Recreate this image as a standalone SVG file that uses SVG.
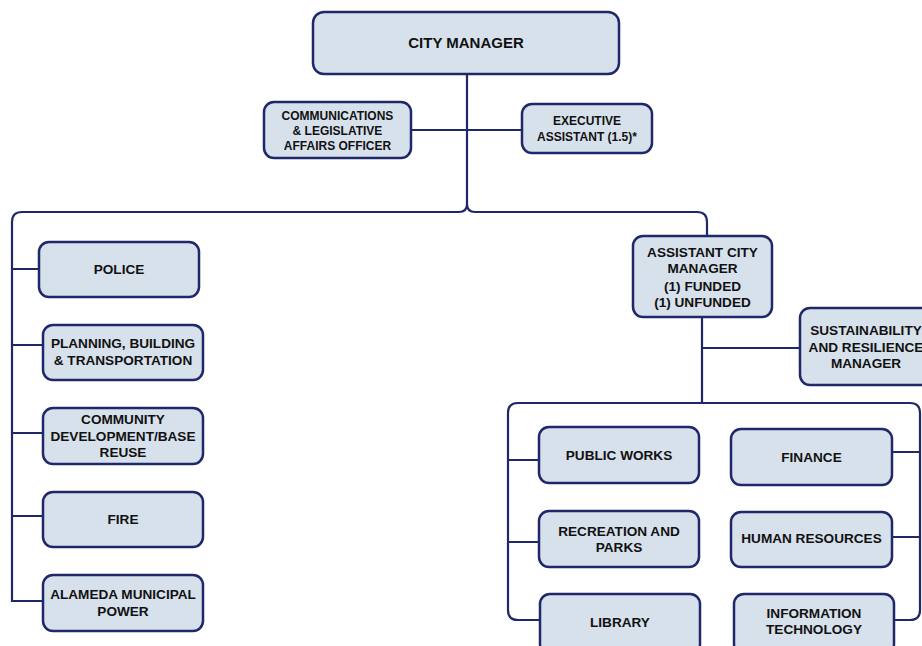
<svg xmlns="http://www.w3.org/2000/svg" width="922" height="646" viewBox="0 0 922 646">
<style>
.box{fill:#d7e1ec;stroke:#1f2868;stroke-width:2.5}
.ln{fill:none;stroke:#1f2868;stroke-width:2.2}
text{font-family:"Liberation Sans",Arial,sans-serif;font-weight:bold;fill:#111;text-anchor:middle}
.t12{font-size:12px}
.t14{font-size:13.6px}
.t15{font-size:15px}
</style>
<rect width="922" height="646" fill="#ffffff"/>
<g id="connectors">
<path class="ln" d="M467,74 V204 Q467,212 459,212 H22 Q12,212 12,222 V601 H43"/>
<path class="ln" d="M467,204 Q467,212 475,212 H697 Q707,212 707,222 V236"/>
<path class="ln" d="M411,130 H522"/>
<path class="ln" d="M12,269 H39 M12,345 H43 M12,433 H43 M12,516 H43"/>
<path class="ln" d="M702,317 V403 M702,348 H800"/>
<path class="ln" d="M539,620 H518 Q508,620 508,610 V413 Q508,403 518,403 H910 Q920,403 920,413 V610 Q920,620 910,620 H894"/>
<path class="ln" d="M508,460 H539 M508,542 H539 M892,452 H920 M892,537 H920"/>
</g>
<g id="city-manager"><rect class="box" x="313" y="12" width="306" height="62" rx="11"/><text class="t15" x="466" y="48">CITY MANAGER</text></g>
<g id="communications"><rect class="box" x="264" y="102" width="147" height="56" rx="10"/><text class="t12" x="337.5" y="120">COMMUNICATIONS</text><text class="t12" x="337.5" y="135">&amp; LEGISLATIVE</text><text class="t12" x="337.5" y="150">AFFAIRS OFFICER</text></g>
<g id="executive-assistant"><rect class="box" x="522" y="104" width="130" height="49" rx="10"/><text class="t12" x="587" y="125">EXECUTIVE</text><text class="t12" x="587" y="141">ASSISTANT (1.5)*</text></g>
<g id="police"><rect class="box" x="39" y="242" width="160" height="55" rx="10"/><text class="t14" x="119" y="274">POLICE</text></g>
<g id="planning"><rect class="box" x="43" y="325" width="160" height="55" rx="10"/><text class="t14" x="123" y="348">PLANNING, BUILDING</text><text class="t14" x="123" y="365">&amp; TRANSPORTATION</text></g>
<g id="community-development"><rect class="box" x="43" y="408" width="160" height="56" rx="10"/><text class="t14" x="123" y="424">COMMUNITY</text><text class="t14" x="123" y="441">DEVELOPMENT/BASE</text><text class="t14" x="123" y="457">REUSE</text></g>
<g id="fire"><rect class="box" x="43" y="492" width="160" height="55" rx="10"/><text class="t14" x="123" y="524">FIRE</text></g>
<g id="alameda-municipal-power"><rect class="box" x="43" y="575" width="160" height="56" rx="10"/><text class="t14" x="123" y="599">ALAMEDA MUNICIPAL</text><text class="t14" x="123" y="616">POWER</text></g>
<g id="assistant-city-manager"><rect class="box" x="633" y="236" width="139" height="81" rx="10"/><text class="t14" x="702.5" y="257">ASSISTANT CITY</text><text class="t14" x="702.5" y="273">MANAGER</text><text class="t14" x="702.5" y="291">(1) FUNDED</text><text class="t14" x="702.5" y="307">(1) UNFUNDED</text></g>
<g id="sustainability"><rect class="box" x="800" y="308" width="132" height="77" rx="10"/><text class="t14" x="866" y="335">SUSTAINABILITY</text><text class="t14" x="866" y="352">AND RESILIENCE</text><text class="t14" x="866" y="368">MANAGER</text></g>
<g id="public-works"><rect class="box" x="539" y="427" width="160" height="56" rx="10"/><text class="t14" x="619" y="460">PUBLIC WORKS</text></g>
<g id="recreation-parks"><rect class="box" x="539" y="511" width="160" height="56" rx="10"/><text class="t14" x="619" y="536">RECREATION AND</text><text class="t14" x="619" y="552">PARKS</text></g>
<g id="library"><rect class="box" x="540" y="594" width="160" height="60" rx="10"/><text class="t14" x="620" y="627">LIBRARY</text></g>
<g id="finance"><rect class="box" x="731" y="429" width="161" height="56" rx="10"/><text class="t14" x="811.5" y="462">FINANCE</text></g>
<g id="human-resources"><rect class="box" x="731" y="512" width="161" height="55" rx="10"/><text class="t14" x="811.5" y="543">HUMAN RESOURCES</text></g>
<g id="information-technology"><rect class="box" x="734" y="594" width="160" height="60" rx="10"/><text class="t14" x="814" y="618">INFORMATION</text><text class="t14" x="814" y="634">TECHNOLOGY</text></g>
</svg>
